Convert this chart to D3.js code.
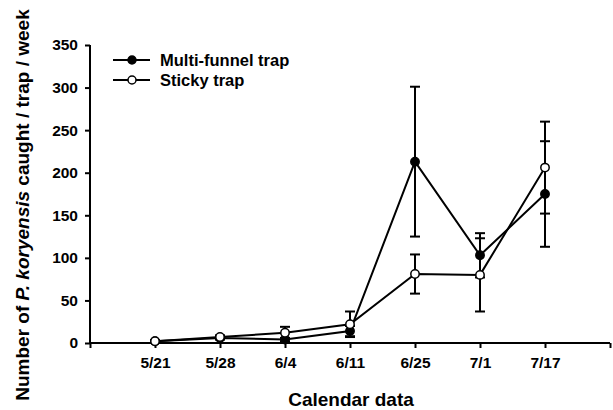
<!DOCTYPE html>
<html lang="en">
<head>
<meta charset="utf-8">
<title>P. koryensis trap catches</title>
<script src="https://cdn.jsdelivr.net/npm/d3@7"></script>
<style>
    body { margin: 0; background: #fff; }
    text { font-family: Arial, "Liberation Sans", sans-serif; font-weight: bold; fill: #000; }
</style>
</head>
<body>
<div id="chart"></div>
<script>
    var dates = ["5/21", "5/28", "6/4", "6/11", "6/25", "7/1", "7/17"];
    var funnelMean = [2, 6, 4, 14, 213, 103, 175];
    var funnelErr = [1, 2, 2, 6, 88, 26, 62];
    var stickyMean = [2, 7, 12, 22, 81, 80, 206];
    var stickyErr = [1, 2, 7, 15, 23, 43, 54];
    var yTicks = [0, 50, 100, 150, 200, 250, 300, 350];

    var w = 613, h = 410;
    var padLeft = 90, padRight = 610, padTop = 45, padBottom = 343;

    var svg = d3.select("#chart").append("svg")
        .attr("width", w)
        .attr("height", h);

    // index 0 and 8 are the empty ends of the axis
    var x = d3.scaleLinear().domain([0, dates.length + 1]).range([padLeft, padRight]);
    var y = d3.scaleLinear().domain([0, 350]).range([padBottom, padTop]);

    var xAxis = d3.axisBottom(x)
        .tickValues(d3.range(0, dates.length + 2))
        .tickSize(5)
        .tickFormat(function (d) { return d >= 1 && d <= dates.length ? dates[d - 1] : ""; });

    var gx = svg.append("g")
        .attr("transform", "translate(0," + padBottom + ")")
        .call(xAxis);
    gx.select(".domain").attr("stroke-width", 2).attr("d", "M" + padLeft + ",0H" + padRight);
    gx.selectAll(".tick line").attr("stroke-width", 2);
    gx.selectAll(".tick text").attr("font-size", 15.5).attr("y", 14).attr("dy", "0.71em");

    var yAxis = d3.axisLeft(y).tickValues(yTicks).tickSize(5);
    var gy = svg.append("g")
        .attr("transform", "translate(" + padLeft + ",0)")
        .call(yAxis);
    gy.select(".domain").attr("stroke-width", 2).attr("d", "M0," + padTop + "V" + padBottom);
    gy.selectAll(".tick line").attr("stroke-width", 2);
    gy.selectAll(".tick text").attr("font-size", 15.5).attr("x", -12);

    var series = [
        { name: "Multi-funnel trap", mean: funnelMean, err: funnelErr, fill: "#000" },
        { name: "Sticky trap", mean: stickyMean, err: stickyErr, fill: "#fff" }
    ];

    var line = d3.line()
        .x(function (d, i) { return x(i + 1); })
        .y(function (d) { return y(d); });

    // error bars first so markers sit on top
    series.forEach(function (s) {
        var g = svg.append("g").attr("stroke", "#000").attr("stroke-width", 2);
        s.mean.forEach(function (m, i) {
            var cx = x(i + 1), hi = y(m + s.err[i]), lo = y(Math.max(0, m - s.err[i]));
            g.append("line").attr("x1", cx).attr("x2", cx).attr("y1", hi).attr("y2", lo);
            g.append("line").attr("x1", cx - 5).attr("x2", cx + 5).attr("y1", hi).attr("y2", hi);
            g.append("line").attr("x1", cx - 5).attr("x2", cx + 5).attr("y1", lo).attr("y2", lo);
        });
    });

    series.forEach(function (s) {
        svg.append("path")
            .datum(s.mean)
            .attr("fill", "none")
            .attr("stroke", "#000")
            .attr("stroke-width", 2)
            .attr("d", line);
    });

    series.forEach(function (s) {
        svg.append("g").selectAll("circle")
            .data(s.mean)
            .enter()
            .append("circle")
            .attr("cx", function (d, i) { return x(i + 1); })
            .attr("cy", function (d) { return y(d); })
            .attr("r", 4.2)
            .attr("fill", s.fill)
            .attr("stroke", "#000")
            .attr("stroke-width", 1.5);
    });

    // legend
    var legend = svg.append("g");
    series.forEach(function (s, i) {
        var ly = 60 + i * 20;
        legend.append("line")
            .attr("x1", 113).attr("x2", 150).attr("y1", ly).attr("y2", ly)
            .attr("stroke", "#000").attr("stroke-width", 2);
        legend.append("circle")
            .attr("cx", 132).attr("cy", ly).attr("r", 4)
            .attr("fill", s.fill).attr("stroke", "#000").attr("stroke-width", 1.5);
        legend.append("text")
            .attr("x", 160).attr("y", ly + 6)
            .attr("font-size", 16.5)
            .text(s.name);
    });

    // axis titles
    svg.append("text")
        .attr("text-anchor", "middle")
        .attr("x", 351).attr("y", 406)
        .attr("font-size", 19)
        .text("Calendar data");

    var yt = svg.append("text")
        .attr("text-anchor", "middle")
        .attr("transform", "translate(29," + 205 + ")rotate(-90)")
        .attr("font-size", 19);
    yt.append("tspan").text("Number of ");
    yt.append("tspan").attr("font-style", "italic").text("P. koryensis");
    yt.append("tspan").text(" caught / trap / week");
</script>
</body>
</html>
